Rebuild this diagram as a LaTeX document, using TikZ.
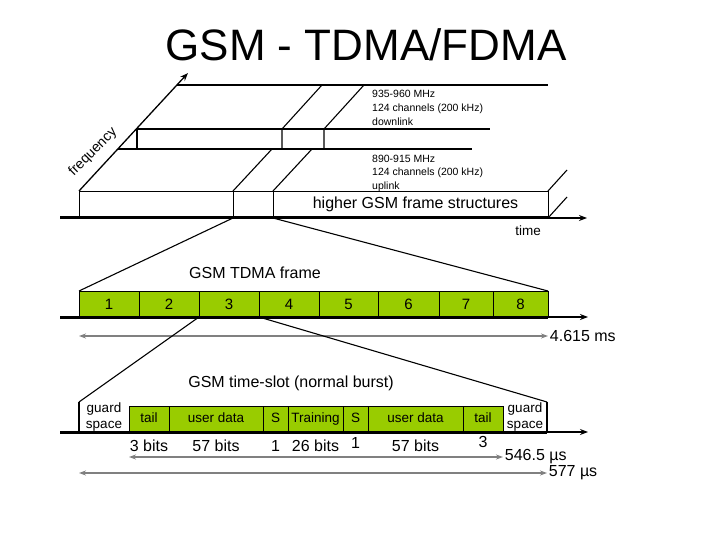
\documentclass[tikz,border=0pt]{standalone}
\usepackage{fontspec}
\setmainfont{Liberation Sans}
\usepackage{tikz}
\usetikzlibrary{
  arrows.meta,
  positioning,
  calc
}
\definecolor{verdegsm}{RGB}{153,204,0}
\definecolor{cinza}{RGB}{128,128,128}

\begin{document}
\begin{tikzpicture}[
      x=1pt, y=-1pt,
      >=Stealth,
      fatia/.style={draw=black, fill=verdegsm, line width=0.8pt, outer sep=0pt, inner sep=0pt, minimum height=26pt, anchor=north west, font=\fontsize{15}{15}\selectfont},
      campo/.style={draw=black, fill=verdegsm, line width=0.8pt, outer sep=0pt, inner sep=0pt, minimum height=26pt, text height=10pt, text depth=3pt, anchor=north west, font=\fontsize{13.5}{13.5}\selectfont},
      caixa/.style={draw=black, line width=0.9pt, outer sep=0pt, inner sep=0pt, minimum height=27pt, anchor=north west},
      guarda/.style={outer sep=0pt, inner sep=0pt, minimum height=30pt, anchor=north west, align=center, font=\fontsize{13.5}{16}\selectfont},
      linha/.style={line width=1.1pt},
      eixo/.style={-{Stealth[length=8pt,width=6pt]}, line width=1.3pt},
      cota/.style={{Stealth[length=7pt,width=5pt]}-{Stealth[length=7pt,width=5pt]}, cinza, line width=1.8pt},
      rotulo/.style={font=\fontsize{16}{16}\selectfont, inner sep=1pt, text=black}
  ]
      \useasboundingbox (0,0) rectangle (720,540);

      % Titulo
      \node[font=\fontsize{44}{44}\selectfont] (titulo) at (366,45) {GSM - TDMA/FDMA};

      % Faixas de frequencia (uplink e downlink)
      \node[caixa, minimum width=154pt] (up1) at (79,191) {};
      \node[caixa, minimum width=40pt] (up2) at (up1.north east) {};
      \node[caixa, minimum width=275pt, font=\fontsize{16}{16}\selectfont] (up3) at (up2.north east) {\hspace{10pt}higher GSM frame structures};
      \draw[linha] (118,149) -- (472,149);
      \draw[linha] (up2.north west) -- ++(39,-42);
      \draw[linha] (up2.north east) -- ++(39,-42);
      \draw[linha] (up3.north east) -- ++(19,-21);
      \draw[linha] (up3.south east) -- ++(19,-21);
      \draw[linha] (137,149) -- (137,129) -- (490,129);
      \draw[linha] (282,149) -- (282,129) -- ++(40,-44);
      \draw[linha] (324,149) -- (324,129) -- ++(40,-44);
      \draw[linha] (177,85) -- (548,85);
      \node[anchor=west, inner sep=0pt, align=left, font=\fontsize{10.5}{13.8}\selectfont] (down) at (372,108) {935-960 MHz\\124 channels (200 kHz)\\downlink};
      \node[anchor=west, inner sep=0pt, align=left, font=\fontsize{10.5}{13.5}\selectfont] (uplk) at (372,173) {890-915 MHz\\124 channels (200 kHz)\\uplink};

      % Eixos frequencia e tempo
      \draw[eixo] (up1.north west) -- (188,73);
      \node[rotate=45, font=\fontsize{14}{14}\selectfont] (freq) at (93,152) {frequency};
      \draw[line width=3pt] (60,218) -- (up3.south east);
      \draw[eixo] (up3.south east) -- (587,218);
      \node[font=\fontsize{13.5}{13.5}\selectfont] (tempo) at (528,231) {time};

      % Quadro TDMA
      \node[font=\fontsize{16}{16}\selectfont] (quadro) at (255,273) {GSM TDMA frame};
      \foreach \n/\xa/\w in {1/79/60, 2/139/60, 3/199/60, 4/259/60, 5/319/59, 6/378/61, 7/439/54, 8/493/55}
        \node[fatia, minimum width=\w pt] (s\n) at (\xa,291) {\n};
      \draw[linha] (up2.south west) -- (s1.north west);
      \draw[linha] (up2.south east) -- (s8.north east);
      \draw[line width=3pt] (60,317) -- (s8.south east);
      \draw[eixo] (s8.south east) -- (588,317);
      \draw[cota] (s1.south west |- 0,336) -- (s8.south east |- 0,336) node[right, rotulo] (dquadro) {4.615 ms};

      % Slot de tempo (burst normal)
      \node[font=\fontsize{16}{16}\selectfont] (burst) at (291,383) {GSM time-slot (normal burst)};
      \node[guarda, minimum width=50pt] (gl) at (79,402) {guard\\space};
      \foreach \n/\xa/\w/\t in {1/129/40/tail, 2/169/94/user data, 3/263/25/S, 4/288/55/Training, 5/343/25/S, 6/368/95/user data, 7/463/40/tail}
        \node[campo, minimum width=\w pt] (f\n) at (\xa,406) {\t};
      \node[guarda, minimum width=44pt] (gr) at (503,402) {guard\\space};
      \draw[linha] (gl.north west) -- (gl.south west);
      \draw[linha] (gr.north east) -- (gr.south east);
      \draw[linha] (s2.south east) -- (gl.north west);
      \draw[linha] (s3.south east) -- (gr.north east);
      \draw[line width=3pt] (60,432) -- (gr.south east);
      \draw[eixo] (gr.south east) -- (588,432);

      % Bits e duracoes
      \foreach \n/\t/\dy in {1/3 bits/14, 2/57 bits/14, 3/1/14, 4/26 bits/14, 5/1/11, 6/57 bits/14, 7/3/10}
        \node[rotulo] (b\n) at ($(f\n.south)+(0,\dy)$) {\t};
      \draw[cota] (f1.south west |- 0,457) -- (f7.south east |- 0,457) node[right, rotulo] (dbits) {546.5 µs};
      \draw[cota] (gl.south west |- 0,473) -- (gr.south east |- 0,473) node[right, rotulo] (dslot) {577 µs};
  \end{tikzpicture}
\end{document}
